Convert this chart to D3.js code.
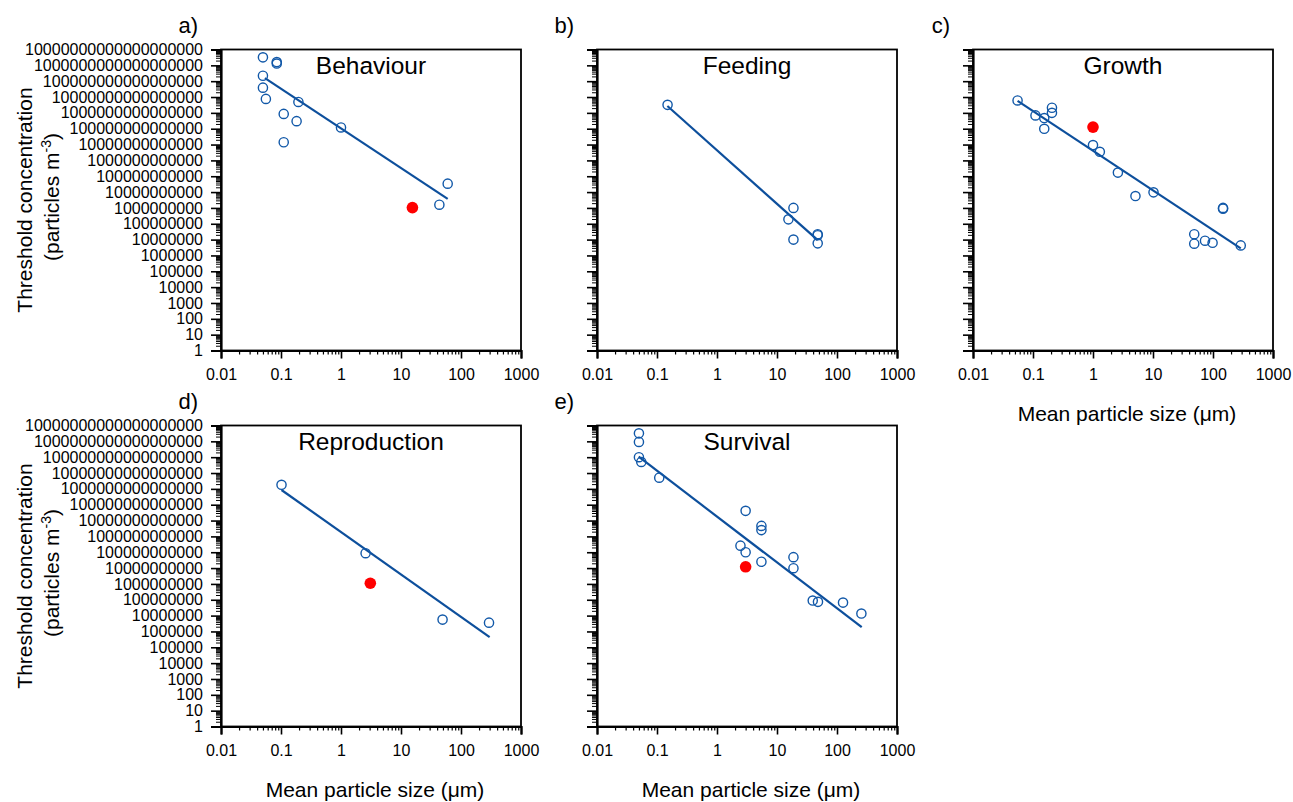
<!DOCTYPE html>
<html>
<head>
<meta charset="utf-8">
<script src="https://cdn.jsdelivr.net/npm/d3@7"></script>
<style>
  html, body { margin: 0; padding: 0; background: #ffffff; }
  svg { display: block; }
  text { font-family: "Liberation Sans", Arial, sans-serif; fill: #000; }
</style>
</head>
<body>
<svg id="chart" width="1293" height="802"></svg>
<script>
// ---------------- DATA ----------------
const panelNames = ["Behaviour", "Feeding", "Growth", "Reproduction", "Survival"];
const panelLetters = ["a)", "b)", "c)", "d)", "e)"];

const xTickValues = [0.01, 0.1, 1, 10, 100, 1000];
const xTickLabels = ["0.01", "0.1", "1", "10", "100", "1000"];
const yTickValues = [1e0,1e1,1e2,1e3,1e4,1e5,1e6,1e7,1e8,1e9,1e10,1e11,1e12,1e13,1e14,1e15,1e16,1e17,1e18,1e19];
const yTickLabels = ["1","10","100","1000","10000","100000","1000000","10000000","100000000",
  "1000000000","10000000000","100000000000","1000000000000","10000000000000",
  "100000000000000","1000000000000000","10000000000000000","100000000000000000",
  "1000000000000000000","10000000000000000000"];

// Behaviour
const behaviourSize = [0.05, 0.085, 0.085, 0.05, 0.05, 0.056, 0.111, 0.195, 0.182, 0.111, 1.0, 60, 43.6];
const behaviourConc = [3.2e18, 1.6e18, 1.3e18, 2.2e17, 3.9e16, 7.6e15, 8.6e14, 4.9e15, 3e14, 1.4e13, 1.2e14, 3.4e10, 1.6e9];
const behaviourRedSize = [15.5];
const behaviourRedConc = [1.05e9];
const behaviourFitSize = [0.054, 60];
const behaviourFitConc = [1.55e17, 3.7e9];

// Feeding
const feedingSize = [0.15, 18.8, 15.5, 18.8, 47.7, 47.7, 47.7];
const feedingConc = [3.2e15, 1e9, 1.9e8, 1e7, 2.2e7, 1.9e7, 5.8e6];
const feedingRedSize = [];
const feedingRedConc = [];
const feedingFitSize = [0.149, 47.7];
const feedingFitConc = [2.7e15, 9.3e6];

// Growth
const growthSize = [0.0553, 0.11, 0.154, 0.154, 0.207, 0.207, 1.0, 1.3, 2.6, 5.1, 10.2, 147, 147, 48.7, 48.7, 73.6, 98.4, 290];
const growthConc = [6.1e15, 6.9e14, 4.7e14, 9.9e13, 2.1e15, 1e15, 9.3e12, 3.5e12, 1.7e11, 5.6e9, 9.6e9, 1e9, 9e8, 2.2e7, 5.5e6, 8.5e6, 6.3e6, 4.3e6];
const growthRedSize = [1.0];
const growthRedConc = [1.26e14];
const growthFitSize = [0.0553, 290];
const growthFitConc = [5.75e15, 2.8e6];

// Reproduction
const reproductionSize = [0.102, 2.57, 49.3, 293];
const reproductionConc = [1.8e15, 8.7e10, 5.6e6, 3.6e6];
const reproductionRedSize = [3.08];
const reproductionRedConc = [1.1e9];
const reproductionFitSize = [0.102, 300];
const reproductionFitConc = [8.5e14, 4.4e5];

// Survival
const survivalSize = [0.05, 0.05, 0.05, 0.0547, 0.109, 3.0, 5.5, 5.5, 2.46, 3.0, 5.5, 18.8, 18.8, 39.4, 48.2, 126, 255];
const survivalConc = [3.2e18, 9.2e17, 1e17, 5e16, 5.1e15, 4.1e13, 4.6e12, 2.5e12, 2.6e11, 1e11, 2.5e10, 4.9e10, 9.8e9, 8.9e7, 7.4e7, 6.6e7, 1.35e7];
const survivalRedSize = [3.0];
const survivalRedConc = [1.2e10];
const survivalFitSize = [0.0495, 258];
const survivalFitConc = [1.07e17, 1.86e6];

const xTitle = "Mean particle size (\u03BCm)";
const yTitle1 = "Threshold concentration";

// ---------------- LAYOUT ----------------
const W = 300, H = 301;
const panels = [
  { left: 221, top: 49.5, size: behaviourSize, conc: behaviourConc, rs: behaviourRedSize, rc: behaviourRedConc, fs: behaviourFitSize, fc: behaviourFitConc, yLabels: true, xTitle: false },
  { left: 597, top: 49.5, size: feedingSize, conc: feedingConc, rs: feedingRedSize, rc: feedingRedConc, fs: feedingFitSize, fc: feedingFitConc, yLabels: false, xTitle: false },
  { left: 973, top: 49.5, size: growthSize, conc: growthConc, rs: growthRedSize, rc: growthRedConc, fs: growthFitSize, fc: growthFitConc, yLabels: false, xTitle: true },
  { left: 221, top: 425.5, size: reproductionSize, conc: reproductionConc, rs: reproductionRedSize, rc: reproductionRedConc, fs: reproductionFitSize, fc: reproductionFitConc, yLabels: true, xTitle: true },
  { left: 597, top: 425.5, size: survivalSize, conc: survivalConc, rs: survivalRedSize, rc: survivalRedConc, fs: survivalFitSize, fc: survivalFitConc, yLabels: false, xTitle: true }
];

const blue = "#1158a8";
const lineBlue = "#0d4f9c";

const svg = d3.select("#chart");

const x = d3.scaleLog().domain([0.01, 1000]).range([0, W]);
const y = d3.scaleLog().domain([1, 1e19]).range([H, 0]);

// minor tick positions (2..9 x each decade)
const xMinor = [];
for (let k = -2; k < 3; k++) for (let m = 2; m <= 9; m++) xMinor.push(m * Math.pow(10, k));
const yMinor = [];
for (let k = 0; k < 19; k++) for (let m = 2; m <= 9; m++) yMinor.push(m * Math.pow(10, k));

panels.forEach((p, i) => {
  const g = svg.append("g").attr("transform", `translate(${p.left},${p.top})`);

  // frame
  g.append("rect").attr("x", 0).attr("y", 0).attr("width", W).attr("height", H)
    .attr("fill", "none").attr("stroke", "#000").attr("stroke-width", 1.8);

  // y axis minor
  g.append("g").call(d3.axisLeft(y).tickValues(yMinor).tickSize(5).tickFormat(""))
    .call(a => a.select(".domain").remove())
    .selectAll("line").attr("stroke", "#000").attr("stroke-width", 1);
  // y axis major
  const ya = g.append("g").call(d3.axisLeft(y).tickValues(yTickValues).tickSize(10).tickPadding(8)
      .tickFormat((d, j) => p.yLabels ? yTickLabels[j] : ""));
  ya.select(".domain").attr("stroke", "#000").attr("stroke-width", 2.2);
  ya.selectAll("line").attr("stroke", "#000").attr("stroke-width", 1.6);
  ya.selectAll("text").attr("font-size", 16).attr("font-family", "Liberation Sans, Arial, sans-serif").attr("fill", "#000");

  // x axis minor
  g.append("g").attr("transform", `translate(0,${H})`)
    .call(d3.axisBottom(x).tickValues(xMinor).tickSize(4).tickFormat(""))
    .call(a => a.select(".domain").remove())
    .selectAll("line").attr("stroke", "#000").attr("stroke-width", 1.2);
  const xa = g.append("g").attr("transform", `translate(0,${H})`)
    .call(d3.axisBottom(x).tickValues(xTickValues).tickSize(8).tickPadding(10)
      .tickFormat((d, j) => xTickLabels[j]));
  xa.select(".domain").attr("stroke", "#000").attr("stroke-width", 2.2);
  xa.selectAll("line").attr("stroke", "#000").attr("stroke-width", 1.6);
  xa.selectAll("text").attr("font-size", 16).attr("font-family", "Liberation Sans, Arial, sans-serif").attr("fill", "#000");

  // fit line
  const fit = p.fs.map((s, j) => [s, p.fc[j]]);
  g.append("path").datum(fit)
    .attr("d", d3.line().x(d => x(d[0])).y(d => y(d[1])))
    .attr("fill", "none").attr("stroke", lineBlue).attr("stroke-width", 2.2);

  // open points
  g.selectAll("circle.open").data(p.size.map((s, j) => [s, p.conc[j]])).enter()
    .append("circle").attr("class", "open")
    .attr("cx", d => x(d[0])).attr("cy", d => y(d[1])).attr("r", 4.6)
    .attr("fill", "none").attr("stroke", blue).attr("stroke-width", 1.4);

  // red points
  g.selectAll("circle.red").data(p.rs.map((s, j) => [s, p.rc[j]])).enter()
    .append("circle").attr("class", "red")
    .attr("cx", d => x(d[0])).attr("cy", d => y(d[1])).attr("r", 5.8)
    .attr("fill", "#ff0000");

  // panel title
  g.append("text").attr("x", W / 2).attr("y", 24.5).attr("text-anchor", "middle")
    .attr("font-size", 24.5).text(panelNames[i]);

  // panel letter
  g.append("text").attr("x", -23).attr("y", -17).attr("text-anchor", "end")
    .attr("font-size", 22).text(panelLetters[i]);

  // y axis title
  if (p.yLabels) {
    const cy = H / 2;
    g.append("text").attr("transform", `translate(${-189},${cy}) rotate(-90)`)
      .attr("text-anchor", "middle").attr("font-size", 21).text(yTitle1);
    const t2 = g.append("text").attr("transform", `translate(${-162},${cy - 3}) rotate(-90)`)
      .attr("text-anchor", "middle").attr("font-size", 21);
    t2.append("tspan").text("(particles m");
    t2.append("tspan").attr("dy", -8).attr("font-size", 14).text("-3");
    t2.append("tspan").attr("dy", 8).text(")");
  }

  // x axis title
  if (p.xTitle) {
    g.append("text").attr("x", W / 2 + 4).attr("y", H + 70).attr("text-anchor", "middle")
      .attr("font-size", 21).text(xTitle);
  }
});
</script>
</body>
</html>
